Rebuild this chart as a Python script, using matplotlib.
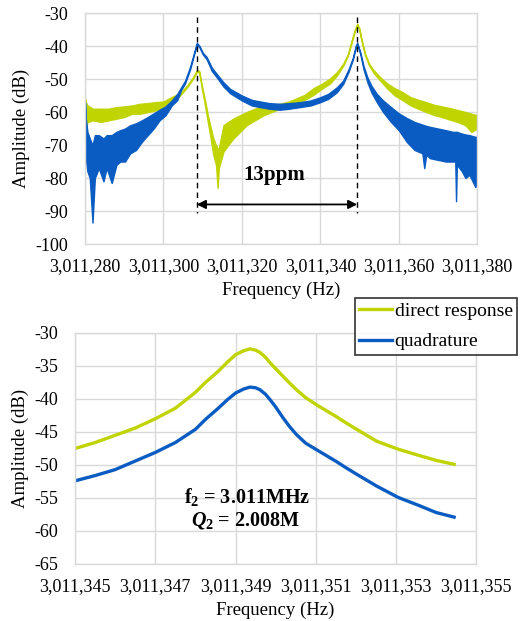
import matplotlib
matplotlib.use("Agg")
import matplotlib.pyplot as plt
from matplotlib.ticker import FuncFormatter, MultipleLocator, FixedLocator

plt.rcParams['font.family'] = ['Liberation Serif', 'DejaVu Serif']
plt.rcParams['axes.unicode_minus'] = False
plt.rcParams['mathtext.fontset'] = 'custom'
plt.rcParams['mathtext.rm'] = 'Liberation Serif:bold'
plt.rcParams['mathtext.bf'] = 'Liberation Serif:bold'
plt.rcParams['mathtext.it'] = 'Liberation Serif:style=italic:weight=bold'

GREEN = '#BFD400'
BLUE = '#0A5CC2'
GRID = '#D9D9D9'

OFFSET = 3011000  # frequencies below are Hz above 3,011,000

# ---------------- top panel: noise envelopes (upper / lower) ----------------
top_green_f = [280.0, 280.2, 280.6, 282, 284, 286, 288, 290, 292, 294, 296, 298, 300,
               302, 304.2, 306, 307.5, 308.5, 309.1, 309.8, 310.6, 311.3, 311.9, 312.7,
               313.4, 313.8, 314.1, 315.3, 316.5, 317.8, 319.5, 321.2, 323.3, 325.5,
               327.5, 329.7, 332, 334, 336, 338.2, 340.3, 342.5, 344.3, 345.9, 347,
               348.0, 348.8, 349.4, 349.9, 350.6, 351.4, 352.4, 353.5, 355.3, 357, 359,
               361, 363, 365, 367, 369, 371, 373, 375, 377, 378.5, 380]
top_green_hi = [-56, -57, -58, -59, -59, -59, -58.5, -58.3, -58, -57.5, -57.3, -57, -56.8,
                -55.5, -54.3, -52, -49.5, -47.3, -47.5, -52, -56.5, -61, -64, -68,
                -70, -71, -71, -64, -63, -62, -61, -60, -59, -58,
                -57.8, -57.5, -56.8, -55.8, -54.8, -52.8, -51.5, -49.8, -47.8, -45.2, -42.5,
                -38.3, -35, -33.2, -34.5, -38.5, -42.3, -45.3, -47.2, -49.5, -51.3, -52.8,
                -54, -55.5, -56.3, -57, -57.8, -58.3, -58.8, -59.4, -60, -60.5, -61]
top_green_lo = [-57, -66, -63, -62.5, -63, -62.5, -62, -61.5, -60.5, -60.5, -60, -59.5, -59,
                -56.5, -55, -52.5, -50, -47.8, -48, -53, -58, -63, -67, -73,
                -76, -83, -77, -72, -70, -68, -66, -64, -62.5, -61,
                -60, -59, -58.3, -57.3, -56.3, -54.8, -53, -51.3, -48.8, -45.8, -43,
                -38.8, -35.5, -33.6, -35, -39, -42.8, -45.8, -48, -50.5, -52.8, -55,
                -56.4, -58, -59, -60, -60.9, -61.5, -62.3, -63, -64, -66, -65]

top_blue_f = [280.0, 280.2, 280.6, 281.2, 281.9, 282.5, 283.5, 284.7, 285.5, 286.8, 288,
              289, 290.2, 291.5, 293, 294.5, 296, 297.5, 299, 300.5, 302.1, 303.5, 304.5,
              305.5, 306.8, 307.8, 308.5, 309.2, 310, 311, 312.3, 313.6, 315.3, 317, 320,
              322.5, 324.6, 327, 329.7, 332, 334.8, 337.5, 340, 342, 344.2, 345.8, 347.2,
              348.3, 349.0, 349.4, 350.2, 351, 352, 353, 354.4, 356, 358, 360, 362, 364,
              366, 366.5, 367, 368, 370, 372, 373.7, 374.4, 374.6, 374.8, 376, 377, 378,
              379.5, 380]
top_blue_hi = [-57, -62, -66, -68, -70, -67, -67, -68, -67, -67, -66,
               -65.5, -65, -64, -63.4, -62.5, -61.5, -60.4, -59.3, -58.3, -56.5, -54.5, -52.5,
               -50.5, -46.2, -42, -39, -40, -42, -43.3, -46.5, -48.5, -51, -53, -55,
               -56.3, -56.8, -57.3, -57.5, -57.3, -57, -56.5, -55.5, -54.5, -52.5, -50.5, -47,
               -43.5, -40, -39, -42, -46, -49.5, -52, -54.5, -56.5, -58.5, -60.4, -61.8, -63,
               -63.8, -64, -64.2, -64.5, -65, -65.5, -66, -66, -66, -66, -66.5, -66.8, -67,
               -67.5, -67.6]
top_blue_lo = [-58, -74, -78, -80, -93.5, -80, -77, -81, -77, -81.5, -76,
               -75, -75, -72.5, -71.5, -69, -67, -65, -62.5, -61, -58, -56.4, -53.3,
               -51.3, -47, -42.5, -39.5, -40.5, -42.5, -44, -47.5, -49.5, -52.3, -54.3, -56.5,
               -58, -58.5, -59, -59.3, -59, -58.5, -58, -57, -56, -54, -51.5, -47.8,
               -44, -40.5, -39.3, -42.5, -47, -51, -54, -57, -60, -63, -65.5, -69, -71.5,
               -72.5, -77, -73, -74, -74.5, -75, -75, -75, -87, -76, -77.8, -80, -79,
               -82.7, -82]

peak_lines = [308.5, 349.4]
ppm_label = '13ppm'

# ---------------- bottom panel ----------------
bot_f = [345.0, 345.5, 346.0, 346.5, 347.0, 347.5, 348.0, 348.25, 348.57, 348.8, 349.0,
         349.2, 349.36, 349.5, 349.61, 349.75, 349.86, 350.0, 350.19, 350.35, 350.52,
         350.75, 351.05, 351.3, 351.52, 351.75, 352.02, 352.52, 353.05, 353.6, 354.0, 354.45]
bot_green = [-47.5, -46.6, -45.5, -44.4, -43.0, -41.4, -39.0, -37.5, -35.8, -34.4, -33.3,
             -32.7, -32.4, -32.6, -32.95, -33.7, -34.5, -35.4, -36.6, -37.6, -38.6,
             -39.8, -41.0, -41.9, -42.7, -43.6, -44.6, -46.4, -47.6, -48.6, -49.3, -49.9]
bot_blue = [-52.4, -51.6, -50.7, -49.4, -48.1, -46.6, -44.6, -43.1, -41.4, -40.1, -39.1,
            -38.5, -38.2, -38.3, -38.6, -39.3, -40.1, -41.2, -42.9, -44.2, -45.4,
            -46.7, -47.8, -48.7, -49.5, -50.4, -51.4, -53.2, -54.9, -56.2, -57.2, -57.9]
bot_xticks = [345, 347, 349, 351, 353, 355]

series_names = ['direct response', 'quadrature']


def hz_fmt(v, pos):
    return f'{int(round(v + OFFSET)):,}'


def style_axes(ax):
    for s in ax.spines.values():
        s.set_color(GRID)
        s.set_linewidth(1.0)
    ax.grid(True, color=GRID, linewidth=1.0)
    ax.set_axisbelow(True)
    ax.tick_params(axis='x', length=0, labelsize=13, pad=10)
    ax.tick_params(axis='y', length=0, labelsize=13, pad=12)
    ax.xaxis.set_major_formatter(FuncFormatter(hz_fmt))


fig = plt.figure(figsize=(5.25, 6.21), dpi=100)

# ---- top ----
ax1 = fig.add_axes([0.162, 0.607, 0.747, 0.372])
ax1.fill_between(top_green_f, top_green_lo, top_green_hi, color=GREEN, lw=1.0, edgecolor=GREEN)
ax1.fill_between(top_blue_f, top_blue_lo, top_blue_hi, color=BLUE, lw=1.0, edgecolor=BLUE)
ax1.set_xlim(280, 380)
ax1.set_ylim(-100, -30)
ax1.xaxis.set_major_locator(MultipleLocator(20))
ax1.yaxis.set_major_locator(MultipleLocator(10))
style_axes(ax1)
ax1.set_xlabel('Frequency (Hz)', fontsize=13.5, labelpad=5)
ax1.set_ylabel('Amplitude (dB)', fontsize=13.5, labelpad=4)
for x in peak_lines:
    ax1.plot([x, x], [-31.2, -90.6], color='black', lw=1.0, ls=(0, (4, 3)), clip_on=False)
ax1.annotate('', xy=(peak_lines[0], -88), xytext=(peak_lines[1], -88),
             arrowprops=dict(arrowstyle='<|-|>', color='black', lw=1.3,
                             mutation_scale=13, shrinkA=0, shrinkB=0))
ax1.text(328.2, -79, ppm_label, ha='center', va='center', fontsize=15, fontweight='bold')

# ---- bottom ----
ax2 = fig.add_axes([0.143, 0.0918, 0.764, 0.372])
l1, = ax2.plot(bot_f, bot_green, color=GREEN, lw=2.4, solid_joinstyle='round')
l2, = ax2.plot(bot_f, bot_blue, color=BLUE, lw=2.4, solid_joinstyle='round')
ax2.set_xlim(345, 355)
ax2.set_ylim(-65, -30)
ax2.xaxis.set_major_locator(FixedLocator(bot_xticks))
ax2.yaxis.set_major_locator(MultipleLocator(5))
style_axes(ax2)
ax2.set_xlabel('Frequency (Hz)', fontsize=13.5, labelpad=5)
ax2.set_ylabel('Amplitude (dB)', fontsize=13.5, labelpad=4)
ax2.text(349.3, -54.8, r'f$_{2}$ = 3.011MHz', ha='center', va='center',
         fontsize=14.5, fontweight='bold')
# Q (italic bold) followed by subscript and value
ax2.text(348.25, -58.4, 'Q', ha='right', va='center', fontsize=14.5,
         fontweight='bold', fontstyle='italic')
ax2.text(348.25, -58.4, r'$_{\mathrm{2}}$ = 2.008M', ha='left', va='center',
         fontsize=14.5, fontweight='bold')

leg = fig.legend([l1, l2], series_names, loc='upper left',
                 bbox_to_anchor=(355 / 525, 1 - 298 / 621), fontsize=14,
                 frameon=True, fancybox=False, edgecolor='black', handlelength=1.7,
                 handletextpad=0.12, borderpad=0.22, labelspacing=0.66, borderaxespad=0)
leg.get_frame().set_linewidth(1.2)

fig.savefig('out.png', dpi=100)
